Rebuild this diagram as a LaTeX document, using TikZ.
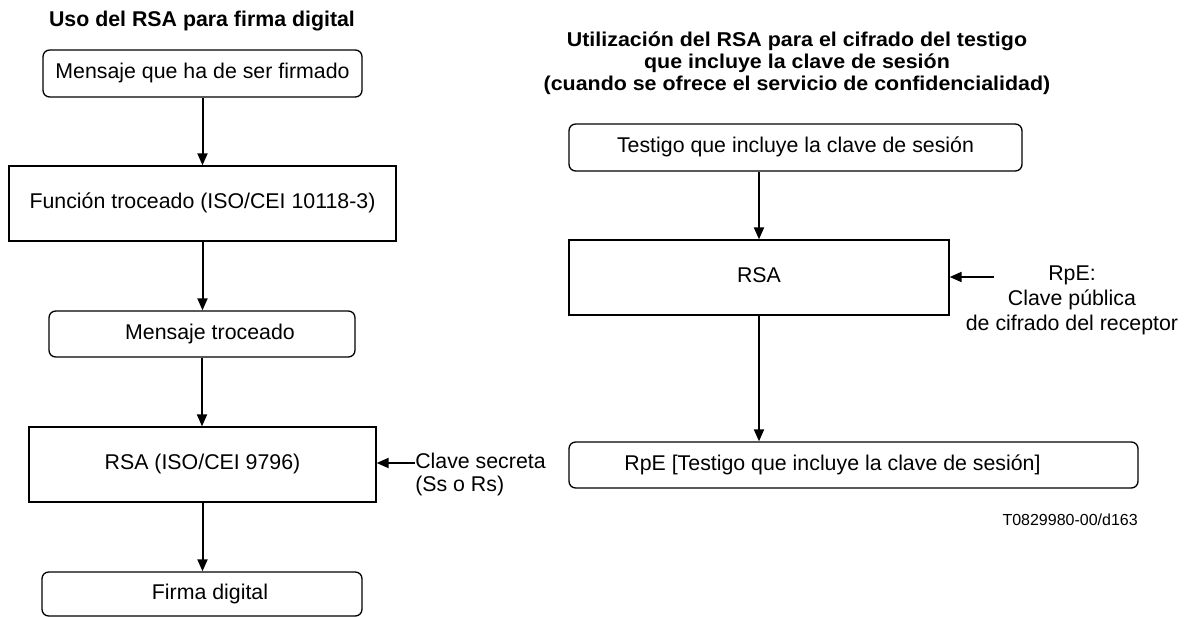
\documentclass[tikz,border=0pt]{standalone}
\usepackage{fontspec}
\setmainfont{Liberation Sans}
\newfontfamily\widesans[FakeStretch=1.07]{Liberation Sans}
\usetikzlibrary{arrows.meta,positioning}

\begin{document}
\begin{tikzpicture}[x=0.75pt,y=-0.75pt,font=\fontsize{16}{18.75}\selectfont,>={Triangle[length=9pt,width=7.5pt]},
  rbox/.style={draw,rounded corners=5pt,line width=1pt,inner sep=0pt,text height=11.5pt,text depth=3.5pt},
  sbox/.style={draw,line width=1pt,inner sep=0pt,text height=11.5pt,text depth=3.5pt},
  flow/.style={->,line width=1.5pt}]
\useasboundingbox (0,0) rectangle (1186,617);
% uso del RSA para firma digital
\node[font=\fontsize{16}{18.75}\selectfont\bfseries] (tfirma) at (202,21) {Uso del RSA para firma digital};
\node[rbox,minimum width=239.25pt,minimum height=35.25pt] (msg) at (202.5,73.5) {Mensaje que ha de ser firmado};
\node[sbox,minimum width=290.25pt,minimum height=56.25pt] (hash) at (202.5,203.5) {Función troceado (ISO/CEI 10118-3)};
\node[rbox,minimum width=229.5pt,minimum height=34.5pt] (hmsg) at (202,334) {\hspace*{12pt}Mensaje troceado};
\node[sbox,minimum width=260.25pt,minimum height=56.25pt] (rsaf) at (202.5,464.5) {RSA (ISO/CEI 9796)};
\node[rbox,minimum width=240pt,minimum height=33pt] (firma) at (202,594) {\hspace*{12pt}Firma digital};
\node[anchor=west,align=left,font=\fontsize{16}{17.25}\selectfont,inner sep=0pt] (skey) at (415,474) {Clave secreta\\(Ss o Rs)};
\draw[flow] (msg.south) -- (msg.south |- hash.north);
\draw[flow] (hash.south) -- (hash.south |- hmsg.north);
\draw[flow] (hmsg.south) -- (hmsg.south |- rsaf.north);
\draw[flow] (rsaf.south) -- (rsaf.south |- firma.north);
\draw[flow] ([yshift=8.25pt]skey.west) -- ([yshift=8.25pt]skey.west -| rsaf.east);
% RSA para el cifrado del testigo
\node[font=\widesans\fontsize{15}{16.5}\selectfont\bfseries,align=center] (tcifra) at (797,63) {Utilización del RSA para el cifrado del testigo\\que incluye la clave de sesión\\(cuando se ofrece el servicio de confidencialidad)};
\node[rbox,minimum width=339.75pt,minimum height=35.25pt] (tok) at (795.5,147.5) {Testigo que incluye la clave de sesión};
\node[sbox,minimum width=285pt,minimum height=56.25pt] (rsac) at (759,277.5) {RSA};
\node[rbox,minimum width=426.75pt,minimum height=34.5pt] (etok) at (853.5,465) {RpE [Testigo que incluye la clave de sesión]\hspace*{31.5pt}};
\node[align=center,font=\fontsize{16}{18.75}\selectfont] (pkey) at (1072,300) {RpE:\\Clave pública\\de cifrado del receptor};
\coordinate (kin) at (994,277);
\draw[flow] (rsac.north |- tok.south) -- (rsac.north);
\draw[flow] (rsac.south) -- (rsac.south |- etok.north);
\draw[flow] (kin) -- (kin -| rsac.east);
\node[anchor=east,font=\fontsize{12}{14}\selectfont,inner sep=0pt] (ref) at (1138,520) {T0829980-00/d163};
\end{tikzpicture}
\end{document}
